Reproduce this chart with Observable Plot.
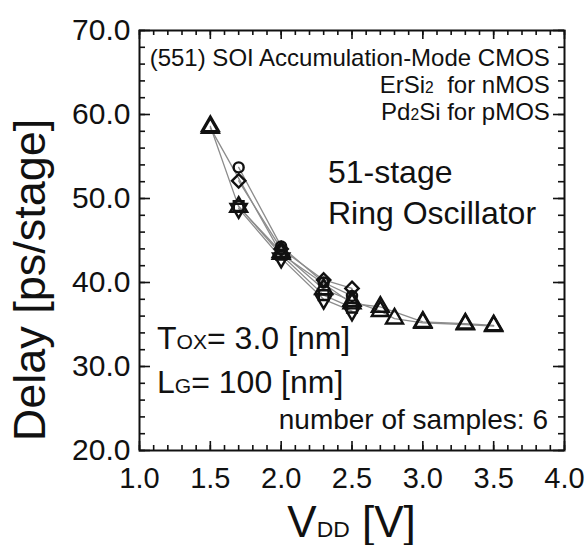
<!DOCTYPE html>
<html><head><meta charset="utf-8">
<script src="https://cdn.jsdelivr.net/npm/d3@7"></script>
<script src="https://cdn.jsdelivr.net/npm/@observablehq/plot@0.6"></script>
<style>
body{margin:0;background:#fff;}
#chart svg{display:block;}
</style></head><body><div id="chart"></div>
<script>
// ---- data ----
const seriesNames = ["circle", "diamond", "triangleA", "triangleB", "triangleDown", "square"];
const circleVdd = [1.7, 2.0, 2.3, 2.5];
const circleDelay = [53.7, 44.3, 40.0, 38.4];
const diamondVdd = [1.7, 2.0, 2.3, 2.5];
const diamondDelay = [52.1, 44.0, 40.3, 39.3];
const triangleAVdd = [1.5, 1.7, 2.0, 2.3, 2.5, 2.7, 2.8, 3.0, 3.3, 3.5];
const triangleADelay = [58.6, 49.0, 43.6, 39.2, 37.8, 36.6, 35.7, 35.2, 35.0, 34.8];
const triangleBVdd = [1.5, 2.0, 2.5, 2.7, 3.0, 3.3, 3.5];
const triangleBDelay = [58.4, 43.4, 37.5, 37.1, 35.3, 35.1, 34.9];
const triangleDownVdd = [1.7, 2.0, 2.3, 2.5];
const triangleDownDelay = [48.8, 42.9, 38.0, 36.6];
const squareVdd = [1.7, 2.0, 2.3, 2.5];
const squareDelay = [49.1, 43.3, 38.5, 37.0];

const xTickLabels = [1.0, 1.5, 2.0, 2.5, 3.0, 3.5, 4.0];
const yTickLabels = [20, 30, 40, 50, 60, 70];
const xMinorTicks = d3.range(10, 41).map(d => d / 10);
const yMinorTicks = d3.range(20, 71, 2);

// ---- build table ----
const vddBy = {circle: circleVdd, diamond: diamondVdd, triangleA: triangleAVdd, triangleB: triangleBVdd, triangleDown: triangleDownVdd, square: squareVdd};
const delayBy = {circle: circleDelay, diamond: diamondDelay, triangleA: triangleADelay, triangleB: triangleBDelay, triangleDown: triangleDownDelay, square: squareDelay};
const rows = seriesNames.flatMap(s => vddBy[s].map((v, i) => ({series: s, vdd: v, delay: delayBy[s][i]})));

const sqrt3 = Math.sqrt(3);
const triangleDownSymbol = {
  draw(context, size) {
    const y = -Math.sqrt(size / (sqrt3 * 3));
    context.moveTo(0, -y * 2);
    context.lineTo(-sqrt3 * y, y);
    context.lineTo(sqrt3 * y, y);
    context.closePath();
  }
};
const symbolFor = {circle: "circle", diamond: "diamond2", triangleA: "triangle", triangleB: "triangle", triangleDown: triangleDownSymbol, square: "square"};
const radiusFor = {circle: 5, diamond: 6, triangleA: 6.3, triangleB: 6.3, triangleDown: 6, square: 5.5};

const font = "'Liberation Sans', Arial, Helvetica, sans-serif";
const ink = "#111";
const hide = () => "";

const W = 588, H = 545, ML = 139, MR = 24, MT = 30, MB = 95;
const PW = W - ML - MR, PH = H - MT - MB;

// short inward tick rules, drawn through the scales and shortened with insets
function ticksX(values, len) {
  return [
    Plot.ruleX(values, {x: d => d, insetTop: PH - len, stroke: ink, strokeWidth: 1.6}),
    Plot.ruleX(values, {x: d => d, insetBottom: PH - len, stroke: ink, strokeWidth: 1.6})
  ];
}
function ticksY(values, len) {
  return [
    Plot.ruleY(values, {y: d => d, insetRight: PW - len, stroke: ink, strokeWidth: 1.6}),
    Plot.ruleY(values, {y: d => d, insetLeft: PW - len, stroke: ink, strokeWidth: 1.6})
  ];
}

const chart = Plot.plot({
  width: W,
  height: H,
  marginLeft: ML,
  marginRight: MR,
  marginTop: MT,
  marginBottom: MB,
  style: {fontFamily: font, color: ink, background: "#fff"},
  x: {domain: [1, 4], label: null},
  y: {domain: [20, 70], label: null},
  marks: [
    ...ticksX(xMinorTicks, 5),
    ...ticksX(xTickLabels, 9),
    ...ticksY(yMinorTicks, 6),
    ...ticksY(yTickLabels, 11),
    // tick labels
    Plot.axisX(xTickLabels, {anchor: "bottom", tickSize: 0, tickPadding: 17, tickFormat: d3.format(".1f"), fontSize: 29, fill: ink, label: null}),
    Plot.axisY(yTickLabels, {anchor: "left", tickSize: 0, tickPadding: 9, tickFormat: d3.format(".1f"), fontSize: 30, fill: ink, label: null}),
    Plot.frame({stroke: ink, strokeWidth: 2}),
    Plot.line(rows, {x: "vdd", y: "delay", z: "series", stroke: "#8c8c8c", strokeWidth: 1.3}),
    ...seriesNames.map(s => Plot.dot(rows.filter(d => d.series === s), {
      x: "vdd", y: "delay", symbol: symbolFor[s], r: radiusFor[s], stroke: ink, strokeWidth: 2.4, fill: "none"
    }))
  ]
});

document.getElementById("chart").appendChild(chart);

// ---- rich-text annotations (with subscripts), placed through the plot's scales ----
const sx = chart.scale("x"), sy = chart.scale("y");
const svg = d3.select(chart);
function richText(px, py, parts, size, anchor) {
  const t = svg.append("text")
    .attr("x", px).attr("y", py)
    .attr("font-family", font)
    .attr("font-size", size)
    .attr("fill", ink)
    .attr("text-anchor", anchor || "start");
  parts.forEach(([str, k]) => t.append("tspan").attr("font-size", size * (k || 1)).text(str));
  return t;
}
function at(xv, yv, parts, size, anchor) {
  return richText(sx.apply(xv), sy.apply(yv), parts, size, anchor);
}

at(3.90, 65.7, [["(551) SOI Accumulation-Mode CMOS"]], 24, "end");
at(3.90, 62.5, [["ErSi"], ["2", 0.65], ["\u00a0 for nMOS"]], 24, "end");
at(3.90, 59.3, [["Pd"], ["2", 0.65], ["Si for pMOS"]], 24, "end");
at(2.334, 51.8, [["51-stage"]], 32);
at(2.334, 46.9, [["Ring Oscillator"]], 32);
at(1.127, 32.0, [["T"], ["OX", 0.66], ["= 3.0 [nm]"]], 32);
at(1.127, 26.8, [["L"], ["G", 0.66], ["= 100 [nm]"]], 32);
at(3.887, 22.5, [["number of samples: 6"]], 28, "end");

// axis titles
const [x0, x1] = sx.range;
const [y0, y1] = sy.range;
richText((x0 + x1) / 2, 537, [["V"], ["DD", 0.52], [" [V]"]], 44, "middle");
richText(0, 0, [["Delay [ps/stage]"]], 45, "middle")
  .attr("transform", `translate(45, ${(y0 + y1) / 2 + 40}) rotate(-90)`);
</script>
</body></html>
